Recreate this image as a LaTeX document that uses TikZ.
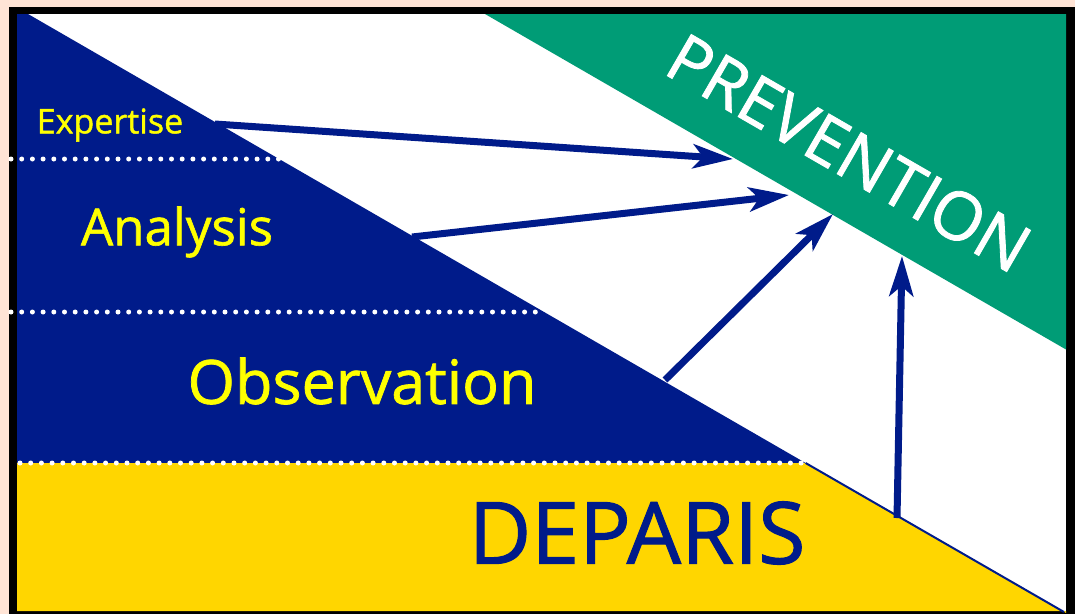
\documentclass[tikz,border=0pt]{standalone}
\usepackage{fontspec}
\setmainfont{Open Sans}
\newfontfamily\lblfont[FakeBold=1.2]{Open Sans}
\usetikzlibrary{arrows.meta}
\definecolor{peach}{RGB}{255,228,214}
\definecolor{dblue}{RGB}{0,27,138}
\definecolor{gold}{RGB}{255,214,0}
\definecolor{teal}{RGB}{0,156,118}
\definecolor{lyellow}{RGB}{255,255,0}
\begin{document}
\begin{tikzpicture}[x=1pt,y=-1pt,
  arr/.style={draw=dblue, line width=7pt, -{Stealth[length=40pt,width=24pt,inset=10pt]}},
  dots/.style={draw=white, line width=5pt, line cap=round, dash pattern=on 0pt off 10.7pt},
  lbl/.style={text=lyellow, inner sep=0pt, anchor=center}]
\useasboundingbox (0,0) rectangle (1075,614);
\fill[peach] (0,0) rectangle (1075,614);
\fill[black] (9,7) rectangle (1075,614);
\fill[white] (17,14) rectangle (1066,611);
% regions
\fill[dblue] (17,14) -- (28,14) -- (805.6,463) -- (17,463) -- cycle;
\fill[gold] (17,463) -- (805.6,463) -- (1066,613) -- (1066,611) -- (17,611) -- cycle;
\draw[dblue, line width=2pt] (805.6,463) -- (1064,612);
\fill[teal] (485,14) -- (1066,14) -- (1066,349.5) -- cycle;
% dotted separators
\draw[dots] (11,159) -- (280,159);
\draw[dots] (11,312) -- (545,312);
\draw[dots] (20,463) -- (806,463);
% labels
\node[lbl, font=\lblfont\fontsize{34}{40}\selectfont] (exp) at (110,125) {Expertise};
\node[lbl, font=\lblfont\fontsize{51}{60}\selectfont] (ana) at (177,232) {Analysis};
\node[lbl, font=\lblfont\fontsize{61}{72}\selectfont] (obs) at (362,381) {Observation};
\node[text=dblue, inner sep=0pt, font=\lblfont\fontsize{86}{100}\selectfont] (dep) at (637,533) {DEPARIS};
\node[text=white, inner sep=0pt, rotate=-30, font=\lblfont\fontsize{67}{78}\selectfont] (pre) at (849,153) {PREVENTION};
% arrow endpoints
\coordinate (s1) at (215,124);
\coordinate (t1) at (733,159);
\coordinate (s2) at (412,237);
\coordinate (t2) at (789,195);
\coordinate (s3) at (665,380);
\coordinate (t3) at (833,214);
\coordinate (s4) at (897,518);
\coordinate (t4) at (902,256);
\draw[arr] (s1) -- (t1);
\draw[arr] (s2) -- (t2);
\draw[arr] (s3) -- (t3);
\draw[arr] (s4) -- (t4);
\end{tikzpicture}
\end{document}
